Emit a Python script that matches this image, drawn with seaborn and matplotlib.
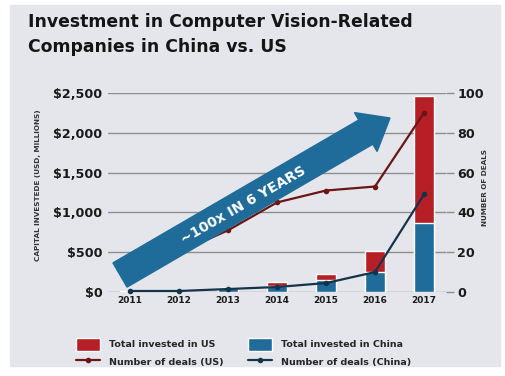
import numpy as np
import matplotlib
matplotlib.use('Agg')
import matplotlib.pyplot as plt
from matplotlib.patches import Rectangle, FancyArrow, Patch
from matplotlib.lines import Line2D
import seaborn as sns

# Data
years = ['2011', '2012', '2013', '2014', '2015', '2016', '2017']
us_invest = [3, 5, 3, 50, 80, 265, 1590]        # USD millions
china_invest = [5, 10, 45, 80, 150, 250, 870]   # USD millions
us_deals = [10, 20, 31, 45, 51, 53, 90]
china_deals = [0.5, 0.5, 1.5, 2.5, 4.5, 10, 49]
usd_ticks = [0, 500, 1000, 1500, 2000, 2500]
usd_labels = ['$0', '$500', '$1,000', '$1,500', '$2,000', '$2,500']
deal_ticks = [0, 20, 40, 60, 80, 100]

RED = '#b61f26'
BLUE = '#1f6c9b'
US_LINE = '#6b1515'
CN_LINE = '#14344a'
BG = '#e5e6eb'

sns.set_style('white')
plt.rcParams['font.family'] = ['DejaVu Sans']
plt.rcParams['font.weight'] = 'bold'

fig = plt.figure(figsize=(5.06, 3.76), dpi=100, facecolor='white')
# light grey panel behind everything
fig.patches.append(Rectangle((10 / 506, 10 / 376), 490 / 506, 361 / 376,
                             transform=fig.transFigure, color=BG, zorder=-10))

ax = fig.add_axes([108 / 506, 1 - 292 / 376, 338 / 506, 199 / 376])
ax.set_facecolor('none')

totals = np.array(us_invest) + np.array(china_invest)
sns.barplot(x=years, y=totals, color=RED, saturation=1, width=0.42, ax=ax)
sns.barplot(x=years, y=china_invest, color=BLUE, saturation=1, width=0.42, ax=ax)

ax.set_ylim(0, 2500)
ax.set_xlim(-0.45, 6.45)
ax.set_yticks(usd_ticks, usd_labels)
ax.set_xticks(range(len(years)), years)
ax.yaxis.grid(True, color='#8e8e8e', lw=1)
ax.set_axisbelow(True)
ax.tick_params(axis='y', length=0, pad=4, labelsize=9.2, labelcolor='#1a1a1a')
ax.tick_params(axis='x', length=0, pad=3, labelsize=6.5, labelcolor='#1a1a1a')
for s in ax.spines.values():
    s.set_visible(False)
ax.set_xlabel('')
ax.set_ylabel('')

ax2 = ax.twinx()
pos = np.arange(len(years))
sns.lineplot(x=pos, y=us_deals, ax=ax2, color=US_LINE, lw=1.6, marker='o',
             markersize=4, markeredgewidth=0, clip_on=False)
sns.lineplot(x=pos, y=china_deals, ax=ax2, color=CN_LINE, lw=1.6, marker='o',
             markersize=4, markeredgewidth=0, clip_on=False)
ax2.set_ylim(0, 100)
ax2.set_yticks(deal_ticks)
ax2.tick_params(axis='y', length=6, width=1, color='#8e8e8e', pad=2,
                labelsize=9.2, labelcolor='#1a1a1a')
for s in ax2.spines.values():
    s.set_visible(False)
ax2.set_xlabel('')
ax2.set_ylabel('')

# axis titles
fig.text(38 / 506, 1 - 185 / 376, 'CAPITAL INVESTEDE (USD, MILLIONS)', rotation=90,
         ha='center', va='center', fontsize=5.2, color='#333333')
fig.text(485 / 506, 1 - 187 / 376, 'NUMBER OF DEALS', rotation=90,
         ha='center', va='center', fontsize=5.2, color='#333333')

# title
fig.text(28 / 506, 1 - 13 / 376, 'Investment in Computer Vision-Related\nCompanies in China vs. US',
         ha='left', va='top', fontsize=12.4, fontweight='bold', linespacing=1.5,
         color='#151515')

# growth arrow
arrow = FancyArrow(1.20, 1.01, 2.70, 1.57, width=0.28, head_width=0.45,
                   head_length=0.28, length_includes_head=True,
                   transform=fig.dpi_scale_trans, color=BLUE, zorder=5)
fig.patches.append(arrow)
fig.text(2.43, 1.71, '~100x IN 6 YEARS', transform=fig.dpi_scale_trans, rotation=30,
         rotation_mode='anchor', ha='center', va='center', color='white',
         fontsize=10, fontweight='bold', zorder=6)

# legend
handles = [Patch(facecolor=RED), Line2D([], [], color=US_LINE, lw=1.6, marker='o', markersize=3),
           Patch(facecolor=BLUE), Line2D([], [], color=CN_LINE, lw=1.6, marker='o', markersize=3)]
labels = ['Total invested in US', 'Number of deals (US)',
          'Total invested in China', 'Number of deals (China)']
fig.legend(handles, labels, ncol=2, loc='upper left', bbox_to_anchor=(76 / 506, 1 - 338 / 376),
           frameon=False, fontsize=6.8, handlelength=2.5, handleheight=1.7,
           handletextpad=1.0, columnspacing=2.6, labelspacing=0.5, borderpad=0,
           borderaxespad=0)

fig.savefig('out.png', dpi=100, facecolor='white')
